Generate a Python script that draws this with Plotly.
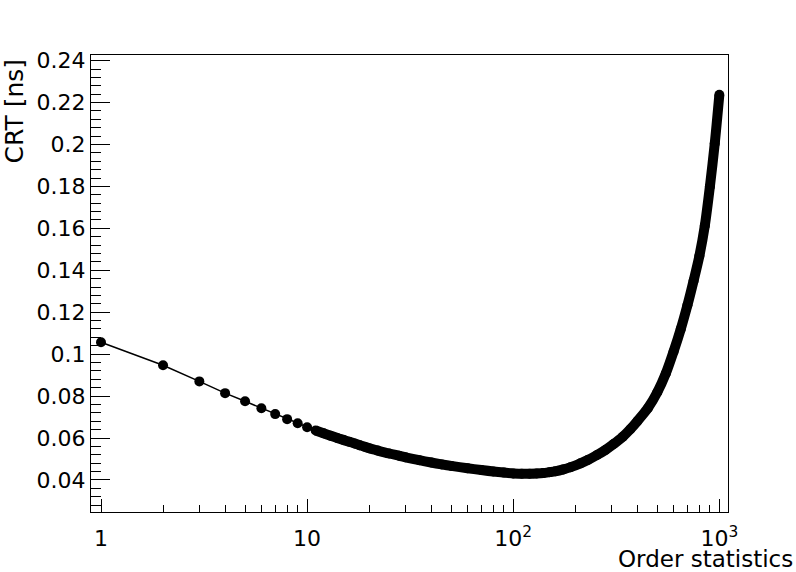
import plotly.graph_objects as go

# Order statistic index and CRT values [ns]
order_n = [1, 2, 3, 4, 5, 6, 7, 8, 9, 10, 11, 12, 13, 14, 15, 16, 17, 18, 19, 20,
           22, 25, 28, 30, 35, 40, 45, 50, 60, 70, 80, 90, 100, 110, 120, 130, 140,
           150, 160, 175, 190, 212, 230, 255, 280, 307, 340, 370, 400, 450, 500,
           550, 600, 650, 700, 750, 800, 850, 900, 950, 1000]
crt_ns = [0.1057, 0.0947, 0.0870, 0.0814, 0.0775, 0.0742, 0.0714, 0.0690, 0.0670, 0.0651,
          0.0636, 0.0623, 0.0611, 0.0600, 0.0591, 0.0582, 0.0574, 0.0566, 0.0558, 0.0551,
          0.0540, 0.0526, 0.0515, 0.0508, 0.0494, 0.0483, 0.0474, 0.0467, 0.0456, 0.0447,
          0.0440, 0.0435, 0.0431, 0.0430, 0.0430, 0.0431, 0.0433, 0.0437, 0.0441, 0.0450,
          0.0461, 0.0479, 0.0495, 0.0519, 0.0543, 0.0571, 0.0606, 0.0642, 0.0680, 0.0742,
          0.0818, 0.0908, 0.1013, 0.1120, 0.1233, 0.1350, 0.1468, 0.1612, 0.1800, 0.2005,
          0.2237]

x_tickvals = [1, 10, 100, 1000]
x_ticktext = ["1", "10", "10<sup>2</sup>", "10<sup>3</sup>"]
x_minor = [2, 3, 4, 5, 6, 7, 8, 9, 20, 30, 40, 50, 60, 70, 80, 90,
           200, 300, 400, 500, 600, 700, 800, 900]

FONT = "DejaVu Sans"
FS = 22

dense_start = order_n.index(11)

fig = go.Figure()
# dense region where markers merge into a band
fig.add_trace(go.Scatter(
    x=order_n[dense_start:], y=crt_ns[dense_start:], mode="lines",
    line=dict(color="black", width=10, shape="spline", smoothing=0.8),
    hoverinfo="skip", showlegend=False))
fig.add_trace(go.Scatter(
    x=order_n, y=crt_ns, mode="lines+markers",
    line=dict(color="black", width=1.5),
    marker=dict(color="black", size=10, symbol="circle"),
    showlegend=False))

fig.update_layout(
    width=796, height=572,
    margin=dict(l=91, r=68, t=55, b=60),
    paper_bgcolor="white", plot_bgcolor="white",
    font=dict(family=FONT, size=FS, color="black"),
    xaxis=dict(
        type="log", range=[-0.0485, 3.042], automargin=False,
        showgrid=False, zeroline=False,
        showline=True, linecolor="black", linewidth=1, mirror=True,
        ticks="inside", ticklen=13, tickwidth=1, tickcolor="black",
        tickmode="array", tickvals=x_tickvals, ticktext=x_ticktext,
        tickfont=dict(family=FONT, size=FS),
        ticklabelstandoff=7,
        minor=dict(ticks="inside", ticklen=7, tickwidth=1, tickcolor="black",
                   tickmode="array", tickvals=x_minor, showgrid=False),
    ),
    yaxis=dict(
        range=[0.0247, 0.2427], automargin=False,
        showgrid=False, zeroline=False,
        showline=True, linecolor="black", linewidth=1, mirror=True,
        ticks="inside", ticklen=19, tickwidth=1, tickcolor="black",
        tick0=0, dtick=0.02, tickformat="~g",
        tickfont=dict(family=FONT, size=FS),
        ticklabelstandoff=0,
        minor=dict(ticks="inside", ticklen=10, tickwidth=1, tickcolor="black",
                   tick0=0, dtick=0.004, showgrid=False),
    ),
    annotations=[
        dict(text="Order statistics", xref="paper", yref="paper",
             x=1.105, y=-0.1028, xanchor="right", yanchor="middle",
             showarrow=False, font=dict(family=FONT, size=23)),
        dict(text="CRT [ns]", xref="paper", yref="paper",
             x=-0.1193, y=0.9956, xanchor="center", yanchor="top",
             textangle=-90, showarrow=False, font=dict(family=FONT, size=25)),
    ],
)

fig.write_html("out.html", config={"displayModeBar": False},
               post_script="document.body.style.margin='0';")
